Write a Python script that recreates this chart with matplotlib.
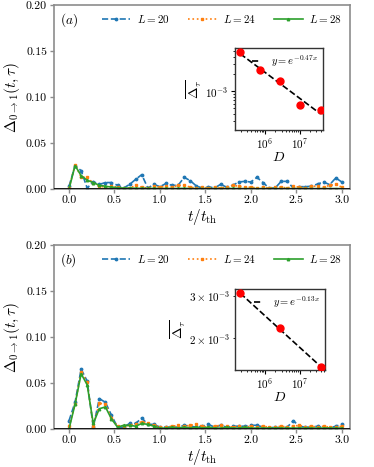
import numpy as np
import matplotlib
matplotlib.use("Agg")
import matplotlib.pyplot as plt

plt.rcParams.update({
    "font.family": "serif",
    "font.serif": ["cmr10", "DejaVu Serif"],
    "mathtext.fontset": "cm",
    "axes.formatter.use_mathtext": True,
    "axes.unicode_minus": False,
})

# ---------------- data ----------------
t = np.linspace(0, 3.0, 46)

a_L20 = [0.003, 0.025, 0.020, 0.001, 0.008, 0.005, 0.007, 0.007, 0.004, 0.001,
         0.005, 0.0105, 0.0156, 0.001, 0.005, 0.0025, 0.006, 0.004, 0.004, 0.0127,
         0.009, 0.0033, 0.001, 0.0025, 0.001, 0.005, 0.002, 0.004, 0.0076, 0.0083,
         0.0076, 0.0127, 0.007, 0.001, 0.001, 0.0083, 0.0083, 0.001, 0.0025, 0.0025,
         0.003, 0.0054, 0.0076, 0.0047, 0.012, 0.0076]
a_L24 = [0.001, 0.0265, 0.013, 0.013, 0.006, 0.003, 0.002, 0.003, 0.002, 0.001,
         0.001, 0.004, 0.002, 0.001, 0.003, 0.002, 0.003, 0.002, 0.004, 0.004,
         0.002, 0.001, 0.002, 0.001, 0.002, 0.001, 0.002, 0.004, 0.003, 0.002,
         0.002, 0.001, 0.002, 0.001, 0.002, 0.002, 0.001, 0.003, 0.002, 0.001,
         0.003, 0.003, 0.002, 0.004, 0.005, 0.002]
a_L28 = [0.0, 0.0255, 0.0145, 0.0095, 0.007, 0.004, 0.003, 0.002, 0.0015, 0.001,
         0.001, 0.0008, 0.0007, 0.0006, 0.0007, 0.0005, 0.0006, 0.0005, 0.0006, 0.0007,
         0.0005, 0.0004, 0.0005, 0.0004, 0.0005, 0.0004, 0.0005, 0.0006, 0.0005, 0.0004,
         0.0005, 0.0004, 0.0005, 0.0004, 0.0005, 0.0004, 0.0005, 0.0004, 0.0005, 0.0004,
         0.0005, 0.0004, 0.0005, 0.0004, 0.0005, 0.0004]

b_L20 = [0.009, 0.029, 0.065, 0.052, 0.002, 0.033, 0.029, 0.015, 0.002, 0.002,
         0.006, 0.006, 0.012, 0.005, 0.005, 0.002, 0.002, 0.002, 0.002, 0.004,
         0.003, 0.002, 0.003, 0.005, 0.002, 0.004, 0.002, 0.003, 0.003, 0.003,
         0.004, 0.004, 0.002, 0.001, 0.002, 0.001, 0.002, 0.009, 0.003, 0.002,
         0.002, 0.003, 0.001, 0.001, 0.003, 0.005]
b_L24 = [0.003, 0.027, 0.062, 0.051, 0.003, 0.028, 0.027, 0.012, 0.003, 0.003,
         0.004, 0.005, 0.008, 0.006, 0.004, 0.002, 0.002, 0.003, 0.004, 0.003,
         0.004, 0.005, 0.003, 0.002, 0.003, 0.004, 0.003, 0.002, 0.003, 0.002,
         0.003, 0.002, 0.003, 0.002, 0.002, 0.003, 0.002, 0.003, 0.004, 0.002,
         0.003, 0.002, 0.003, 0.002, 0.002, 0.003]
b_L28 = [0.0, 0.027, 0.060, 0.048, 0.006, 0.022, 0.024, 0.011, 0.002, 0.004,
         0.004, 0.003, 0.006, 0.005, 0.003, 0.001, 0.001, 0.002, 0.001, 0.002,
         0.001, 0.002, 0.001, 0.002, 0.001, 0.001, 0.002, 0.001, 0.001, 0.002,
         0.001, 0.001, 0.001, 0.001, 0.001, 0.001, 0.001, 0.001, 0.001, 0.001,
         0.001, 0.001, 0.001, 0.001, 0.001, 0.001]

inset_a_D = [184756, 705432, 2704156, 10400600, 40116600]
inset_a_val = [4.9e-3, 2.33e-3, 1.52e-3, 5.6e-4, 4.65e-4]
inset_b_D = [184756, 2704156, 40116600]
inset_b_val = [3.07e-3, 2.21e-3, 1.52e-3]
fit_a_label = r"$y=e^{-0.47x}$"
fit_b_label = r"$y=e^{-0.13x}$"

labels = [r"$L=20$", r"$L=24$", r"$L=28$"]
colors = ["#1f77b4", "#ff7f0e", "#2ca02c"]
styles = [dict(ls="--", marker=".", ms=3.5), dict(ls=":", marker="s", ms=1.6),
          dict(ls="-", marker="^", ms=1.8)]

fig = plt.figure(figsize=(3.74, 4.67), dpi=100)

def main_panel(rect, series, tag):
    ax = fig.add_axes(rect)
    for s, lab, c, st in zip(series, labels, colors, styles):
        ax.plot(t, s, color=c, lw=1.2, label=lab, **st)
    ax.axhline(0, color="k", lw=1.2, zorder=5)
    ax.set_xlim(-0.165, 3.09)
    ax.set_ylim(0, 0.2)
    ax.set_xticks([0, 0.5, 1.0, 1.5, 2.0, 2.5, 3.0])
    ax.set_yticks([0, 0.05, 0.10, 0.15, 0.20])
    ax.set_yticklabels(["0.00", "0.05", "0.10", "0.15", "0.20"])
    ax.set_xticklabels(["0.0", "0.5", "1.0", "1.5", "2.0", "2.5", "3.0"])
    for sp in ax.spines.values():
        sp.set_color("0.55")
        sp.set_linewidth(1.2)
    ax.tick_params(labelsize=8.5, color="0.55", length=3, width=1, pad=2)
    ax.set_xlabel(r"$t/t_{\rm th}$", fontsize=11, labelpad=1)
    ax.set_ylabel(r"$\Delta_{0\to1}(t,\tau)$", fontsize=11, labelpad=3)
    ax.text(0.02, 0.965, tag, transform=ax.transAxes, fontsize=9.5, va="top", ha="left")
    ax.legend(loc="upper right", ncol=3, frameon=False, fontsize=8,
              handlelength=2.6, columnspacing=1.6, handletextpad=0.6,
              bbox_to_anchor=(1.0, 1.0), borderaxespad=0.3)
    return ax

def inset(rect, D, val, flabel, xlim, ylim):
    ax = fig.add_axes(rect)
    ax.set_xscale("log")
    ax.set_yscale("log")
    D = np.asarray(D, float)
    v = np.asarray(val, float)
    p = np.polyfit(np.log(D), np.log(v), 1)
    xx = np.array([D.min() * 1.05, D.max()])
    ax.plot(xx, np.exp(np.polyval(p, np.log(xx))), "k--", lw=1.2, label=flabel, zorder=2)
    ax.plot(D, v, "o", color="red", ms=5, zorder=3, ls="none")
    ax.set_xlim(*xlim)
    ax.set_ylim(*ylim)
    for sp in ax.spines.values():
        sp.set_color("0.2")
        sp.set_linewidth(1.0)
    ax.tick_params(which="both", labelsize=8, pad=1.5)
    ax.tick_params(which="major", length=3)
    ax.tick_params(which="minor", length=1.5)
    ax.set_xlabel(r"$D$", fontsize=10, labelpad=0)
    ax.set_ylabel(r"$\overline{\Delta_\tau}$", fontsize=10, labelpad=1)
    ax.legend(loc="upper right", frameon=False, fontsize=7.5, handlelength=0.8,
              handletextpad=1.0, borderaxespad=0.1)
    return ax

main_panel([0.1444, 0.5953, 0.7914, 0.394], [a_L20, a_L24, a_L28], r"$(a)$")
inset([0.6283, 0.7216, 0.2353, 0.1756], inset_a_D, inset_a_val, fit_a_label,
      (10**5.135, 10**7.671), (2.07e-4, 5.7e-3))
main_panel([0.1444, 0.0814, 0.7914, 0.394], [b_L20, b_L24, b_L28], r"$(b)$")
inset([0.6283, 0.2077, 0.2406, 0.1734], inset_b_D, inset_b_val, fit_b_label,
      (10**5.135, 10**7.729), (1.48e-3, 3.2e-3))

fig.savefig("out.png", dpi=100)
